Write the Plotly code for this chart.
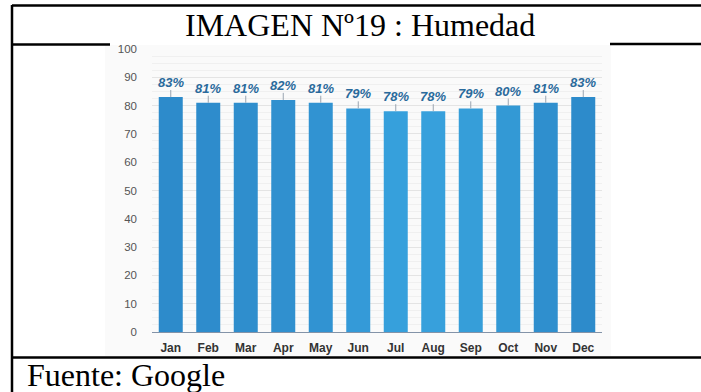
import plotly.graph_objects as go

# Monthly relative humidity (%)
months = ["Jan", "Feb", "Mar", "Apr", "May", "Jun", "Jul", "Aug", "Sep", "Oct", "Nov", "Dec"]
humidity = [83, 81, 81, 82, 81, 79, 78, 78, 79, 80, 81, 83]
bar_colors = ["#2d8bcb", "#2e8ccc", "#2f8ecd", "#3090cf", "#3193d2", "#349ad8",
              "#36a0dc", "#37a0dc", "#369ed9", "#3399d5", "#2f8fce", "#2d8bcb"]
y_ticks = [0, 10, 20, 30, 40, 50, 60, 70, 80, 90, 100]

title_text = "IMAGEN Nº19 : Humedad"
source_text = "Fuente: Google"

W, H = 701, 392
L, R, T, B = 152, 99, 49, 60
PW, PH = W - L - R, H - T - B


def px(x):
    return (x - L) / PW


def py(y):
    return (H - B - y) / PH


fig = go.Figure()
fig.add_trace(go.Bar(
    x=months, y=humidity,
    marker=dict(color=bar_colors, line=dict(width=0)),
    error_y=dict(type="data", symmetric=False,
                 array=[2.5] * len(humidity), arrayminus=[0] * len(humidity),
                 color="#9aa5b1", thickness=1, width=0),
    hoverinfo="x+y",
))

annotations = []
for m, v in zip(months, humidity):
    annotations.append(dict(
        x=m, y=v, xref="x", yref="y", text=f"<b><i>{v}%</i></b>",
        showarrow=False, yanchor="bottom", yshift=5,
        font=dict(family="Liberation Sans, Arial", size=13, color="#2a6a9c"),
    ))

annotations.append(dict(
    x=px(360), y=py(25), xref="paper", yref="paper", text=title_text,
    showarrow=False, xanchor="center", yanchor="middle",
    font=dict(family="Liberation Serif, Times New Roman", size=32, color="#000000"),
))
annotations.append(dict(
    x=px(25), y=py(375), xref="paper", yref="paper", text=source_text,
    showarrow=False, xanchor="left", yanchor="middle",
    font=dict(family="Liberation Serif, Times New Roman", size=32, color="#000000"),
))

line_style = dict(color="#000000", width=2.5)
shapes = [
    # light backdrop behind the chart
    dict(type="rect", xref="paper", yref="paper", x0=px(105), x1=px(611),
         y0=py(356), y1=py(45), fillcolor="#fafafa", line=dict(width=0), layer="below"),
    # table frame
    dict(type="line", xref="paper", yref="paper", x0=px(12), x1=px(701), y0=py(5.5), y1=py(5.5), line=line_style),
    dict(type="line", xref="paper", yref="paper", x0=px(12), x1=px(12), y0=py(5), y1=py(392), line=line_style),
    dict(type="line", xref="paper", yref="paper", x0=px(12), x1=px(110), y0=py(44.5), y1=py(44.5), line=line_style),
    dict(type="line", xref="paper", yref="paper", x0=px(610), x1=px(701), y0=py(44), y1=py(44), line=line_style),
    dict(type="line", xref="paper", yref="paper", x0=px(12), x1=px(701), y0=py(357.5), y1=py(357.5), line=line_style),
]

fig.update_layout(
    width=W, height=H,
    margin=dict(l=L, r=R, t=T, b=B, pad=0),
    paper_bgcolor="#ffffff",
    plot_bgcolor="#fafafa",
    bargap=0.36,
    showlegend=False,
    annotations=annotations,
    shapes=shapes,
    xaxis=dict(
        showgrid=False, showline=True, linecolor="#8393a8", linewidth=1,
        ticks="", tickfont=dict(family="Liberation Sans, Arial", size=12, color="#333333"),
        tickprefix="<b>", ticksuffix="</b>", ticklabelstandoff=5,
        fixedrange=True,
    ),
    yaxis=dict(
        range=[0, 100], tickvals=y_ticks, showgrid=True, gridcolor="#e4e4e4", gridwidth=1,
        zeroline=False, showline=False, ticks="",
        tickfont=dict(family="Liberation Sans, Arial", size=11.5, color="#555555"),
        ticklabelstandoff=14,
        minor=dict(dtick=2.5, showgrid=True, gridcolor="#f0f0f0", gridwidth=1),
        fixedrange=True,
    ),
)

fig.write_html("out.html")
